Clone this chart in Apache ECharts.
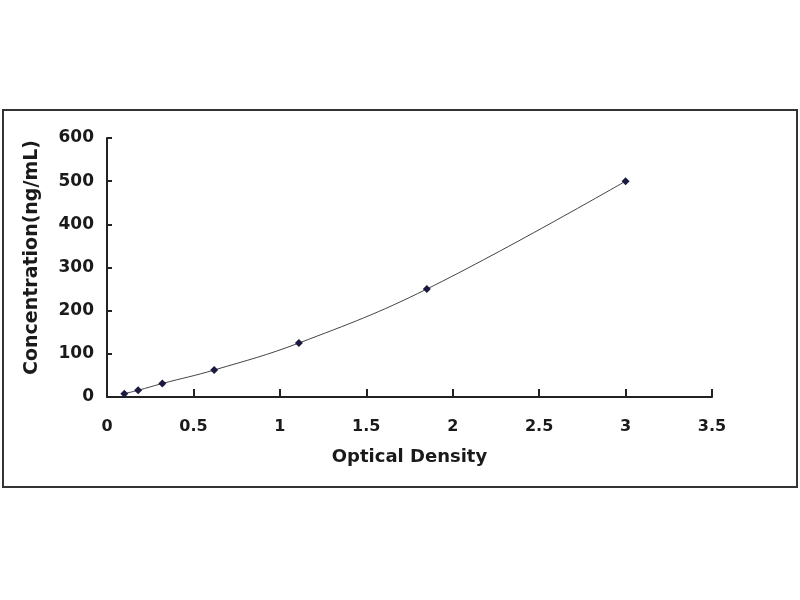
<!DOCTYPE html>
<html><head><meta charset="utf-8">
<script src="https://cdn.jsdelivr.net/npm/echarts@6/dist/echarts.min.js"></script>
<style>html,body{margin:0;padding:0;background:#fff}#c{width:800px;height:600px}</style>
</head><body><div id="c"></div>
<script>
const opticalDensity = [0.1, 0.18, 0.32, 0.62, 1.11, 1.85, 3.0];
const concentration = [7.8, 15.6, 31.25, 62.5, 125, 250, 500];
const xTitle = 'Optical Density';
const yTitle = 'Concentration(ng/mL)';

const FONT = 'DejaVu Sans';
const chart = echarts.init(document.getElementById('c'));
const pts = opticalDensity.map((x, i) => [x, concentration[i]]);
chart.setOption({
  animation: false,
  backgroundColor: '#fff',
  graphic: [{
    type: 'rect', shape: { x: 3, y: 110, width: 794, height: 377 },
    style: { fill: 'none', stroke: '#333', lineWidth: 2 }, z: -1
  }],
  grid: { left: 107, top: 138, width: 605, height: 259 },
  xAxis: {
    type: 'value', min: 0, max: 3.5, interval: 0.5,
    name: xTitle, nameLocation: 'middle', nameGap: 51,
    nameTextStyle: { fontFamily: FONT, fontWeight: 'bold', fontSize: 18, color: '#1a1a1a' },
    axisLine: { show: true, lineStyle: { color: '#222', width: 2 } },
    axisTick: { show: true, inside: true, length: 8, lineStyle: { color: '#222', width: 2 } },
    axisLabel: { fontFamily: FONT, fontWeight: 'bold', fontSize: 16, color: '#1a1a1a', margin: 22 },
    splitLine: { show: false }
  },
  yAxis: {
    type: 'value', min: 0, max: 600, interval: 100,
    name: yTitle, nameLocation: 'middle', nameGap: 65,
    nameTextStyle: { fontFamily: FONT, fontWeight: 'bold', fontSize: 19, color: '#1a1a1a', padding: [0, 0, 0, 20] },
    axisLine: { show: true, lineStyle: { color: '#222', width: 2 } },
    axisTick: { show: true, inside: true, length: 5, lineStyle: { color: '#222', width: 2 } },
    axisLabel: { fontFamily: FONT, fontWeight: 'bold', fontSize: 17, color: '#1a1a1a', margin: 13 },
    splitLine: { show: false }
  },
  series: [{
    type: 'line', data: pts, smooth: 0.4,
    symbol: 'diamond', symbolSize: 8,
    lineStyle: { color: '#444', width: 1 },
    itemStyle: { color: '#1a1a40' }
  }]
});
</script></body></html>
